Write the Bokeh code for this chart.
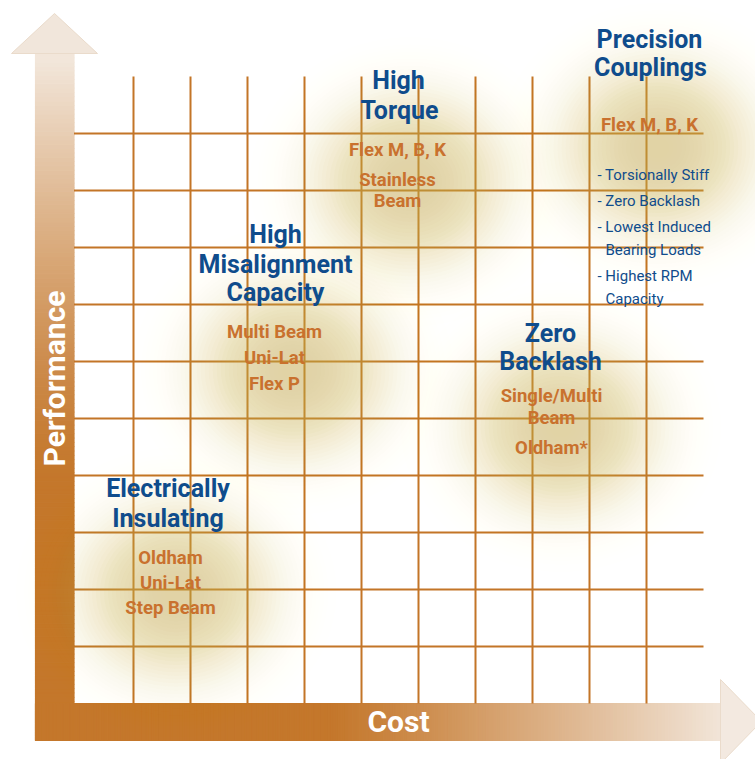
import numpy as np
from bokeh.plotting import figure
from bokeh.models import Range1d
from bokeh.core.properties import value
from bokeh.embed import file_html
from bokeh.resources import INLINE

# ---------------- data ----------------
groups = ["Electrically Insulating", "High Misalignment Capacity", "High Torque",
          "Zero Backlash", "Precision Couplings"]
group_cost = [1.75, 3.8, 5.85, 8.5, 10.2]        # position on the cost axis (grid units)
group_perf = [1.95, 5.85, 9.15, 4.85, 9.75]      # position on the performance axis
headings = [["Electrically", "Insulating"],
            ["High", "Misalignment", "Capacity"],
            ["High", "Torque"],
            ["Zero", "Backlash"],
            ["Precision", "Couplings"]]
products = [["Oldham", "Uni-Lat", "Step Beam"],
            ["Multi Beam", "Uni-Lat", "Flex P"],
            ["Flex M, B, K", "Stainless", "Beam"],
            ["Single/Multi", "Beam", "Oldham*"],
            ["Flex M, B, K"]]
features = ["- Torsionally Stiff", "- Zero Backlash", "- Lowest Induced",
            "Bearing Loads", "- Highest RPM", "Capacity"]
x_label = "Cost"
y_label = "Performance"
grid_cells = 11

# ---------------- layout (pixels of the 755x759 picture) ----------------
PX0, PY0, CELL = 76.0, 703.0, 57.0
def X(px): return (px - PX0) / CELL
def Y(py): return (PY0 - py) / CELL
KB = 0.36   # baseline correction (fraction of font size)

heading_pos = [[(167.5, 497), (167.5, 527)],
               [(275, 243), (275, 273), (275, 301)],
               [(398, 89), (399, 119)],
               [(550, 342), (550, 370)],
               [(649, 48), (650, 76)]]
product_pos = [[(170, 564), (170, 589), (170, 614)],
               [(274, 338), (274, 364), (274, 390)],
               [(397, 156), (397, 186), (397, 207)],
               [(551, 402), (551, 424), (551, 454)],
               [(649, 131)]]
feature_pos = [(597, 180), (597, 206), (597, 232), (605, 255), (597, 281), (605, 304)]

BLUE = "#0F4C8C"
ORANGE_TXT = "#C9712E"
ORANGE = "#C4772B"
LIGHT = "#F2E6DA"
GRID_C = "#C37527"
GLOW = "#D2BC62"
FONT = value("Roboto")
FS_HEAD, FS_PROD, FS_FEAT, FS_AXIS = 25, 18.5, 15, 30

W, H = 755, 759
p = figure(width=W, height=H, output_backend="svg", toolbar_location=None,
           x_range=Range1d(X(0), X(W)), y_range=Range1d(Y(H), Y(0)),
           x_axis_location=None, y_axis_location=None, min_border=0)
p.grid.visible = False
p.outline_line_color = None
p.background_fill_color = "white"
p.border_fill_color = "white"

def hex2rgb(h):
    h = h.lstrip("#")
    return np.array([int(h[i:i + 2], 16) for i in (0, 2, 4)], dtype=float)
def rgb2hex(c):
    c = np.clip(np.round(c), 0, 255).astype(int)
    return "#%02x%02x%02x" % tuple(c)
c_or, c_li = hex2rgb(ORANGE), hex2rgb(LIGHT)

# ---------------- vertical arrow (performance) ----------------
edges = np.linspace(740, 53, 160)
tops, bots, cols = [], [], []
for a, b in zip(edges[:-1], edges[1:]):
    m = 0.5 * (a + b)
    t = np.clip((480 - m) / (480 - 60), 0, 1) ** 1.3
    cols.append(rgb2hex(c_or + (c_li - c_or) * t))
    bots.append(Y(a)); tops.append(Y(b))
p.quad(left=X(35), right=X(73.5), bottom=bots, top=tops, fill_color=cols,
       line_color=cols, line_width=1.2)
p.patch([X(11), X(54), X(97)], [Y(53), Y(13), Y(53)], fill_color="#F1E6DB",
        line_color="#EADBCB", line_width=1)

# ---------------- horizontal arrow (cost) ----------------
edges = np.linspace(35, 720, 200)
lefts, rights, cols = [], [], []
for a, b in zip(edges[:-1], edges[1:]):
    m = 0.5 * (a + b)
    t = np.clip((m - 330) / (725 - 330), 0, 1) ** 1.1
    cols.append(rgb2hex(c_or + (c_li - c_or) * t))
    lefts.append(X(a)); rights.append(X(b))
p.quad(left=lefts, right=rights, bottom=Y(740), top=Y(703), fill_color=cols,
       line_color=cols, line_width=1.2)
p.patch([X(720), X(761), X(720)], [Y(679), Y(721), Y(763)], fill_color="#F3E9E0",
        line_color="#EADBCB", line_width=1)

# ---------------- grid ----------------
ticks = np.arange(1, grid_cells)
p.segment(x0=ticks, x1=ticks, y0=0, y1=grid_cells, line_color=GRID_C, line_width=2)
p.segment(x0=X(73.5), x1=grid_cells, y0=ticks, y1=ticks, line_color=GRID_C, line_width=2)

# ---------------- glows ----------------
N = 40
s = 90.0 / CELL
rmax = 1.7 * s
radii = rmax * (1 - np.arange(N) / N)
target = 0.5 * np.exp(-((radii - 0.5 * rmax / N) / s) ** 3.0)
alphas = []
prev = 0.0
for T in target:
    a = 1 - (1 - T) / (1 - prev) if T > prev else 0.0
    alphas.append(max(a, 0.0))
    prev = max(T, prev)
for gx, gy in zip(group_cost, group_perf):
    p.ellipse(x=[gx] * N, y=[gy] * N, width=2.1 * radii, height=1.9 * radii,
              fill_color=GLOW, fill_alpha=alphas, line_color=None)

# ---------------- texts ----------------
def ty(py, fs): return Y(py - KB * fs)

hx, hy, ht = [], [], []
for lines, pos in zip(headings, heading_pos):
    for s_, (px, py) in zip(lines, pos):
        hx.append(X(px)); hy.append(ty(py, FS_HEAD)); ht.append(s_)
p.text(x=hx, y=hy, text=ht, text_font=FONT, text_font_style="bold",
       text_font_size=f"{FS_HEAD}px", text_color=BLUE, text_align="center",
       text_baseline="alphabetic")

ox, oy, ot = [], [], []
for lines, pos in zip(products, product_pos):
    for s_, (px, py) in zip(lines, pos):
        ox.append(X(px)); oy.append(ty(py, FS_PROD)); ot.append(s_)
p.text(x=ox, y=oy, text=ot, text_font=FONT, text_font_style="bold",
       text_font_size=f"{FS_PROD}px", text_color=ORANGE_TXT, text_align="center",
       text_baseline="alphabetic")

p.text(x=[X(px) for px, _ in feature_pos], y=[ty(py, FS_FEAT) for _, py in feature_pos],
       text=features, text_font=FONT, text_font_size=f"{FS_FEAT}px", text_color=BLUE,
       text_align="left", text_baseline="alphabetic")

p.text(x=[X(398)], y=[ty(732, FS_AXIS)], text=[x_label], text_font=FONT, text_font_style="bold",
       text_font_size=f"{FS_AXIS}px", text_color="white", text_align="center",
       text_baseline="alphabetic")
p.text(x=[X(65 - KB * FS_AXIS)], y=[Y(378)], text=[y_label], text_font=FONT,
       text_font_style="bold", text_font_size=f"{FS_AXIS}px", text_color="white",
       text_align="center", text_baseline="alphabetic", angle=np.pi / 2)

open("out.html", "w").write(file_html(p, INLINE))
